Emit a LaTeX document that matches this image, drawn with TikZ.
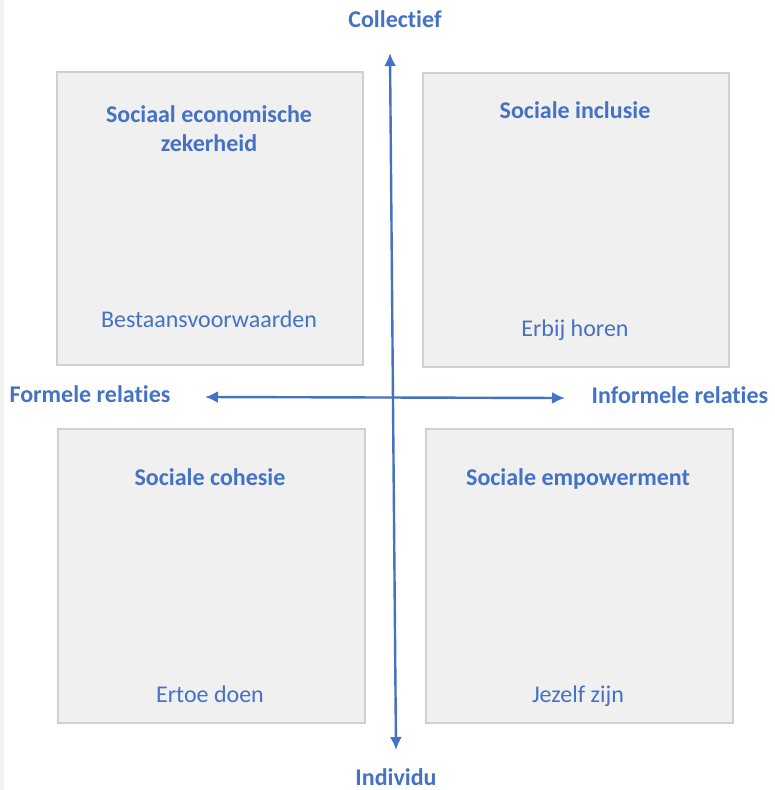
\documentclass[tikz,border=0pt]{standalone}
\usepackage{fontspec}
\setmainfont{Carlito}[Ligatures=NoCommon]
\usetikzlibrary{arrows.meta}
\definecolor{tblue}{HTML}{4472C4}
\definecolor{boxfill}{HTML}{F0F0F0}
\definecolor{boxline}{HTML}{D0D0D0}
\definecolor{strip}{HTML}{F2F2F2}
\tikzset{
  quad/.style={draw=boxline, fill=boxfill, line width=1.6pt, anchor=north west, inner sep=0pt},
  ttl/.style={text=tblue, font=\fontsize{24}{29.3}\selectfont\bfseries, anchor=base, inner sep=0pt},
  sub/.style={text=tblue, font=\fontsize{24}{29.3}\selectfont, anchor=base, inner sep=0pt},
  axis/.style={draw=tblue, line width=2.4pt, {Latex[length=13pt,width=12pt]}-{Latex[length=13pt,width=12pt]}}
}
\begin{document}
\begin{tikzpicture}[x=1pt,y=-1pt]
\useasboundingbox (0,0) rectangle (775,790);
\fill[white] (0,0) rectangle (775,790);
\fill[strip] (0,0) rectangle (4,790);
% boxes
\node[quad, minimum width=306pt, minimum height=293pt] (tl) at (56,71) {};
\node[quad, minimum width=306pt, minimum height=294pt] (tr) at (422,72) {};
\node[quad, minimum width=307pt, minimum height=294pt] (bl) at (57,428) {};
\node[quad, minimum width=307pt, minimum height=294pt] (br) at (425,428) {};
% box texts
\node[ttl] (tlt1) at (209,122) {Sociaal economische};
\node[ttl] (tlt2) at (209,151) {zekerheid};
\node[sub] (tls) at (209,327) {Bestaansvoorwaarden};
\node[ttl] (trt) at (575,118) {Sociale inclusie};
\node[sub] (trs) at (575,336) {Erbij horen};
\node[ttl] (blt) at (210,485) {Sociale cohesie};
\node[sub] (bls) at (210,702) {Ertoe doen};
\node[ttl] (brt) at (578,485) {Sociale empowerment};
\node[sub] (brs) at (578,702) {Jezelf zijn};
% axis labels
\node[ttl] (top) at (395,27) {Collectief};
\node[ttl] (bot) at (396,785) {Individu};
\node[ttl] (lft) at (90,402) {Formele relaties};
\node[ttl] (rgt) at (680,403) {Informele relaties};
% axes
\coordinate (vt) at (390,53);
\coordinate (vb) at (396,750);
\coordinate (hl) at (205,397);
\coordinate (hr) at (565,398);
\draw[axis] (vt) -- (vb);
\draw[axis] (hl) -- (hr);
\end{tikzpicture}
\end{document}
